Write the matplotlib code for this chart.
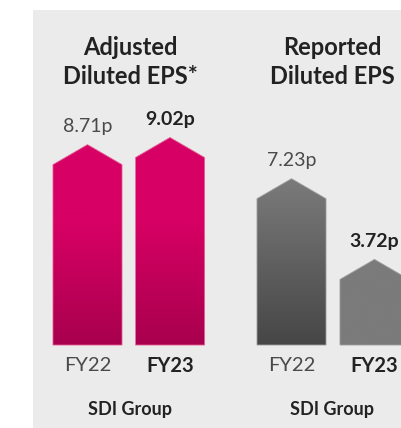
import numpy as np
import matplotlib
matplotlib.use('Agg')
import matplotlib.pyplot as plt
from matplotlib.colors import LinearSegmentedColormap

plt.rcParams['font.family'] = ['Lato', 'DejaVu Sans']

# data
groups = ['Adjusted\nDiluted EPS*', 'Reported\nDiluted EPS']
years = ['FY22', 'FY23']
adjusted_eps = [8.71, 9.02]
reported_eps = [7.23, 3.72]
company = 'SDI Group'

# layout (pixel-ish x units, value units on y)
W, H = 401, 428
PX_PER_UNIT = 23.0
BASE_PX = 83            # bar base, pixels from bottom
BAR_W = 69
ROOF = 20 / PX_PER_UNIT
group_x = [(87.5, 170.0), (291.5, 374.5)]
group_centre = [130.0, 332.0]

PANEL = '#EBEBEB'
MAGENTA = ('#D70064', '#A8004E')
GREY_DARK = ('#7B7B7B', '#464646')
GREY_FLAT = ('#7B7B7B', '#7B7B7B')
styles = [[MAGENTA, MAGENTA], [GREY_DARK, GREY_FLAT]]
edges = ['#E35A93', '#9C9C9C']

fig = plt.figure(figsize=(W / 100, H / 100), dpi=100)
fig.patch.set_facecolor('white')
ax = fig.add_axes([0, 0, 1, 1])
ax.set_xlim(0, W)
ax.set_ylim(-BASE_PX / PX_PER_UNIT, (H - BASE_PX) / PX_PER_UNIT)
ax.axis('off')

# grey panel
ax.add_patch(plt.Rectangle((33 / W, 0), 1, (H - 10) / H, transform=ax.transAxes,
                           facecolor=PANEL, edgecolor='none', zorder=0))


def house_bar(x, v, cols, edge, fade):
    xs = [x - BAR_W / 2, x - BAR_W / 2, x, x + BAR_W / 2, x + BAR_W / 2]
    ys = [0, v - ROOF, v, v - ROOF, 0]
    poly = ax.fill(xs, ys, facecolor='none', edgecolor=edge, linewidth=0.6, zorder=3)[0]
    cmap = LinearSegmentedColormap.from_list('g', [cols[1], cols[0]])
    t = np.linspace(0, 1, 256)
    grad = np.clip(t / fade, 0, 1)
    img = ax.imshow(grad[::-1].reshape(-1, 1), cmap=cmap, vmin=0, vmax=1, aspect='auto',
                    extent=(x - BAR_W / 2, x + BAR_W / 2, 0, v), zorder=2)
    img.set_clip_path(poly)


fades = [0.6, 1.0]
for gi, vals in enumerate([adjusted_eps, reported_eps]):
    for bi, v in enumerate(vals):
        x = group_x[gi][bi]
        house_bar(x, v, styles[gi][bi], edges[gi], fades[gi])
        bold = bi == 1
        ax.annotate(f'{v:.2f}p', (x, v), xytext=(0, 9), textcoords='offset points',
                    ha='center', va='baseline', fontsize=14,
                    fontweight='bold' if bold else 'normal',
                    color='#222222' if bold else '#4A4A4A', zorder=5)
        ax.text(x, 1 - 365.5 / H, years[bi], transform=ax.get_xaxis_transform(),
                ha='center', va='center', fontsize=14.5,
                fontweight='bold' if bold else 'normal',
                color='#222222' if bold else '#4A4A4A')
    ax.text(group_centre[gi], 1 - 62 / H, groups[gi], transform=ax.get_xaxis_transform(),
            ha='center', va='center', fontsize=17, fontweight='bold', color='#222222',
            linespacing=1.35)
    ax.text(group_centre[gi], 1 - 409 / H, company, transform=ax.get_xaxis_transform(),
            ha='center', va='center', fontsize=13, fontweight='bold', color='#222222')

fig.savefig('out.png', dpi=100, facecolor='white')
